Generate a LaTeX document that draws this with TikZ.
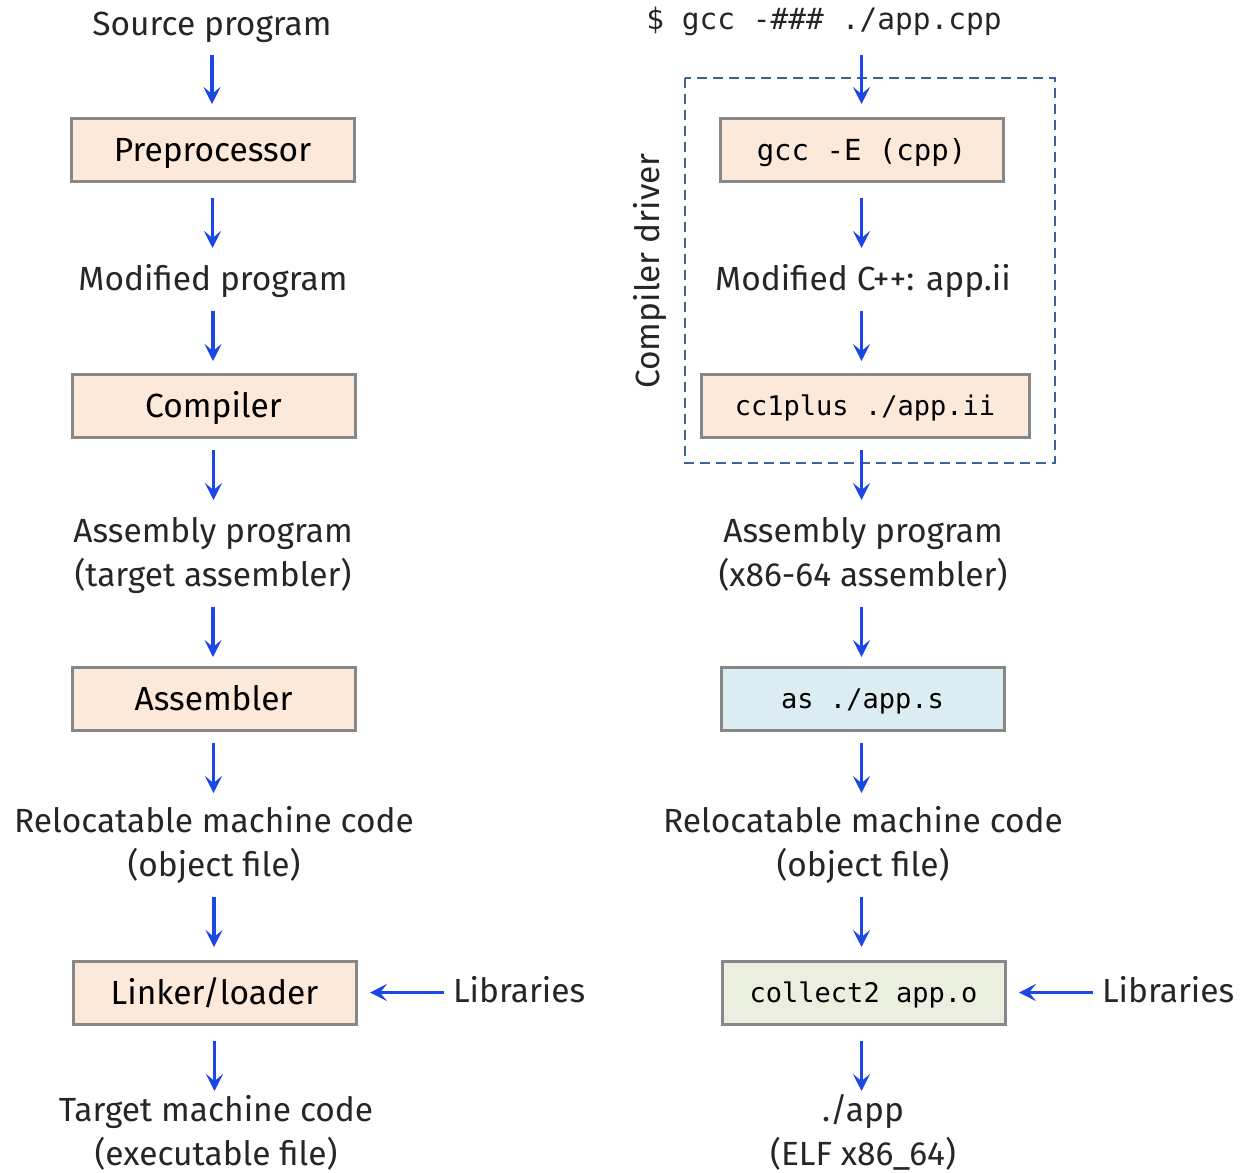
\documentclass[tikz,border=0pt]{standalone}
\usepackage{fontspec}
\setmainfont{Fira Sans}
\setmonofont{DejaVu Sans Mono}
\usetikzlibrary{arrows.meta}
\definecolor{arrblue}{HTML}{1A47E5}
\definecolor{peach}{HTML}{FDE9D9}
\definecolor{lblue}{HTML}{DBEDF3}
\definecolor{lgreen}{HTML}{EBEFDF}
\definecolor{bordergray}{HTML}{878787}
\definecolor{dashblue}{HTML}{3D6394}
\definecolor{txt}{HTML}{262626}
\newcommand{\lblfont}{\fontsize{33.5}{44}\selectfont}
\newcommand{\monofont}{\fontsize{27}{34}\selectfont\ttfamily}
\tikzset{
  arr/.style={draw=arrblue, line width=3.8pt, -{Stealth[length=17pt,width=17pt,inset=7pt]}},
  box/.style={draw=bordergray, line width=3pt, fill=peach, minimum width=283pt, minimum height=63pt, outer sep=0pt, inner sep=0pt, font=\lblfont, text=black, text height=23.1pt, text depth=0pt},
  mbox/.style={box, font=\monofont, text height=19.7pt},
  lbl/.style={inner sep=0pt, outer sep=0pt, font=\lblfont, text=txt, align=center},
  one/.style={lbl, minimum height=36pt, text height=23.1pt, text depth=0pt},
  two/.style={lbl, minimum height=80pt, text height=67.1pt, text depth=0pt},
}
\begin{document}
\begin{tikzpicture}[x=1pt,y=-1pt]
\useasboundingbox (0,0) rectangle (1246,1172);
% left column
\node[one] (src) at (212,23.5) {Source program};
\node[box] (pre) at (212.5,149.5) {Preprocessor};
\node[one] (mod) at (213,278.5) {Modified program};
\node[box] (comp) at (213.5,405.5) {Compiler};
\node[two] (asm) at (213,552.6) {Assembly program\\(target assembler)};
\node[box] (asmb) at (213.5,698.5) {Assembler};
\node[two] (rel) at (214,842.6) {Relocatable machine code\\(object file)};
\node[box] (link) at (214.5,992.5) {Linker/loader};
\node[one, anchor=west] (lib1) at (453,990.5) {Libraries};
\node[two] (tgt) at (216,1132) {Target machine code\\(executable file)};
\draw[arr, shorten <=13.5pt, shorten >=14pt] (src.south) -- (src.south |- pre.north);
\draw[arr, shorten <=17pt, shorten >=12.5pt] (pre.south) -- (pre.south |- mod.north);
\draw[arr, shorten <=14.5pt, shorten >=13pt] (mod.south) -- (mod.south |- comp.north);
\draw[arr, shorten <=13pt, shorten >=12.6pt] (comp.south) -- (comp.south |- asm.north);
\draw[arr, shorten <=14.4pt, shorten >=10pt] (asm.south) -- (asm.south |- asmb.north);
\draw[arr, shorten <=13pt, shorten >=9.6pt] (asmb.south) -- (asmb.south |- rel.north);
\draw[arr, shorten <=14.4pt, shorten >=14pt] (rel.south) -- (rel.south |- link.north);
\draw[arr, shorten <=17pt, shorten >=1pt] (link.south) -- (link.south |- tgt.north);
\draw[arr, shorten <=9pt, shorten >=14pt] (link.east -| lib1.west) -- (link.east);
% right column
\node[lbl, font=\fontsize{29.5}{34}\selectfont\ttfamily, text=txt, minimum height=36pt, text height=21.5pt, text depth=0pt] (cmd) at (824,19) {\$ gcc -\#\#\# ./app.cpp};
\draw[dashblue, line width=2.7pt, dash pattern=on 10pt off 6pt] (685,78) rectangle (1055,463);
\node[mbox, font=\fontsize{29}{34}\selectfont\ttfamily, text height=21.1pt] (cpp) at (861.5,149.5) {gcc -E (cpp)};
\node[one] (modc) at (863,278.5) {Modified C++: app.ii};
\node[mbox, minimum width=328pt] (cc1) at (865,405.5) {cc1plus ./app.ii};
\node[two] (asm2) at (863,552.6) {Assembly program\\(x86-64 assembler)};
\node[mbox, fill=lblue] (as) at (862.5,698.5) {as ./app.s};
\node[two] (rel2) at (863,842.6) {Relocatable machine code\\(object file)};
\node[mbox, fill=lgreen] (col) at (863.5,992.5) {collect2 app.o};
\node[one, anchor=west] (lib2) at (1102,990.5) {Libraries};
\node[two] (app) at (863,1132) {./app\\(ELF x86\_64)};
\node[one, rotate=90] (drv) at (648,271) {Compiler driver};
\draw[arr, shorten <=18pt, shorten >=14pt] (cmd.south -| cpp) -- (cpp.north);
\draw[arr, shorten <=17pt, shorten >=12.5pt] (cpp.south) -- (cpp |- modc.north);
\draw[arr, shorten <=14.5pt, shorten >=13pt] (modc.south -| cpp) -- (cpp |- cc1.north);
\draw[arr, shorten <=13pt, shorten >=12.6pt] (cc1.south -| cpp) -- (cpp |- asm2.north);
\draw[arr, shorten <=14.4pt, shorten >=10pt] (asm2.south -| cpp) -- (cpp |- as.north);
\draw[arr, shorten <=13pt, shorten >=9.6pt] (as.south -| cpp) -- (cpp |- rel2.north);
\draw[arr, shorten <=14.4pt, shorten >=14pt] (rel2.south -| cpp) -- (cpp |- col.north);
\draw[arr, shorten <=17pt, shorten >=1pt] (col.south -| cpp) -- (cpp |- app.north);
\draw[arr, shorten <=9pt, shorten >=14pt] (col.east -| lib2.west) -- (col.east);
\end{tikzpicture}
\end{document}
